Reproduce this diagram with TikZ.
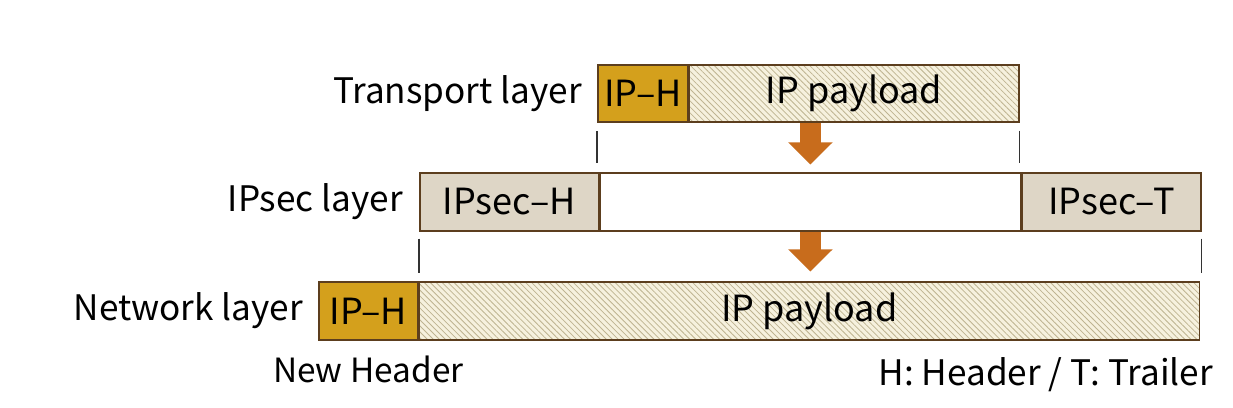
\documentclass[tikz,border=0pt]{standalone}
\usepackage{fontspec}
\setmainfont{Noto Sans CJK JP}
\definecolor{ipgold}{RGB}{212, 160, 28}
\definecolor{boxbrown}{RGB}{92, 62, 30}
\definecolor{paycream}{RGB}{246, 241, 222}
\definecolor{payhatch}{RGB}{190, 180, 145}
\definecolor{secgray}{RGB}{222, 214, 198}
\definecolor{arrorange}{RGB}{200, 108, 28}
\usetikzlibrary{arrows.meta, positioning, patterns.meta, calc}
\tikzset{
	cell/.style={rectangle, draw=boxbrown, line width=0.9pt, minimum height=1.15cm, inner sep=0pt, anchor=west, font=\fontsize{20.5}{24}\selectfont},
	header/.style={cell, fill=ipgold},
	payload/.style={cell, preaction={fill=paycream}, pattern={Lines[angle=-45, distance=2.4pt, line width=0.45pt]}, pattern color=payhatch},
	secpart/.style={cell, fill=secgray},
	emptypart/.style={cell, fill=white},
	layer/.style={inner sep=0pt, font=\fontsize{20}{24}\selectfont},
	note/.style={inner sep=0pt, font=\fontsize{19}{22}\selectfont},
	tick/.style={semithick, draw=black!80},
	downarrow/.style={-{Triangle[length=0.44cm, width=0.86cm]}, line width=0.42cm, draw=arrorange},
}
\begin{document}
\begin{tikzpicture}
		\useasboundingbox[fill=white] (0,0) rectangle (24.66,8.14);
		% transport layer
		\node[header, minimum width=1.8cm] (tiph) at (11.94,6.27) {IP–H};
		\node[payload, minimum width=6.6cm] (tpay) at (tiph.east) {IP payload};
		\node[layer, left=0.3cm of tiph] (tlabel) {Transport layer};
		% ipsec layer
		\node[secpart, minimum width=3.58cm] (sech) at (8.38,4.10) {IPsec–H};
		\node[emptypart, minimum width=8.4cm] (secmid) at (sech.east) {};
		\node[secpart, minimum width=3.58cm] (sect) at (secmid.east) {IPsec–T};
		\node[layer, left=0.32cm of sech] (slabel) {IPsec layer};
		% network layer
		\node[header, minimum width=1.98cm] (nih) at (6.36,1.92) {IP–H};
		\node[payload, minimum width=15.6cm] (npay) at (nih.east) {IP payload};
		\node[layer, left=0.3cm of nih] (nlabel) {Network layer};
		\node[note, below=0.3cm of nih] (newhdr) {New Header};
		\node[note, below=0.34cm of npay.south east, anchor=north east, xshift=0.26cm, font=\fontsize{20}{22}\selectfont] (legend) {H: Header / T: Trailer};
		% arrows and ticks
		\draw[downarrow] (secmid.north |- tpay.south) -- ([yshift=0.16cm]secmid.north);
		\draw[downarrow] (secmid.south) -- ([yshift=0.2cm]secmid.south |- npay.north);
		\draw[tick] ([yshift=-0.16cm]tiph.south west) -- ++(0,-0.64);
		\draw[tick] ([yshift=-0.16cm]tpay.south east) -- ++(0,-0.64);
		\draw[tick] ([yshift=-0.14cm]sech.south west) -- ++(0,-0.68);
		\draw[tick] ([yshift=-0.14cm]sect.south east) -- ++(0,-0.68);
	\end{tikzpicture}
\end{document}
